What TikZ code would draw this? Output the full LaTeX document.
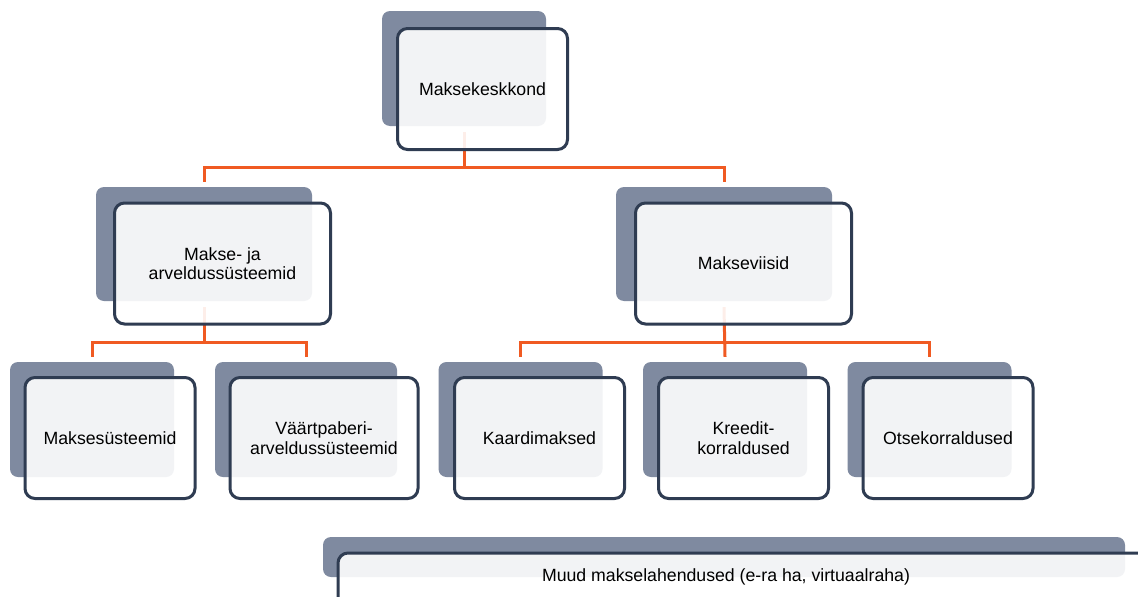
\documentclass[tikz,border=0pt]{standalone}
\usepackage{fontspec}
\setmainfont{Liberation Sans}

\definecolor{slate}{HTML}{7F8AA0}
\definecolor{navy}{HTML}{2F3C52}
\definecolor{flame}{HTML}{F05A22}

\begin{document}
\begin{tikzpicture}[back/.style={rectangle, rounded corners=8pt, fill=slate, inner sep=0pt, minimum width=164pt, minimum height=115pt}, front/.style={rectangle, rounded corners=10pt, draw=navy, line width=3pt, fill=white, fill opacity=0.9, text opacity=1, inner sep=0pt, align=center, minimum width=170pt, minimum height=121pt, font=\fontsize{17.7pt}{19.5pt}\selectfont}, wide/.style={minimum width=216pt}, link/.style={draw=flame, line width=3pt}]
  \clip (0pt, 0pt) rectangle (1138pt, -597pt);
  \fill[white] (0pt, 0pt) rectangle (1138pt, -597pt);
  \coordinate (bus0) at (0pt, -167pt);
  \coordinate (bus1) at (0pt, -342pt);
  % shadow plates
  \draw (464.0pt, -68.5pt)node[back](b0){};
  \draw (204.0pt, -244.0pt)node[back, wide, minimum height=114pt](b1){};
  \draw (724.0pt, -244.0pt)node[back, wide, minimum height=114pt](b2){};
  \draw (92.0pt, -419.5pt)node[back](b3){};
  \draw (306.0pt, -419.5pt)node[back, minimum width=182pt](b4){};
  \draw (520.5pt, -419.5pt)node[back](b5){};
  \draw (725.0pt, -419.5pt)node[back](b6){};
  \draw (929.5pt, -419.5pt)node[back](b7){};
  \draw (724.0pt, -557.0pt)node[back, minimum width=802pt, minimum height=40pt](b8){};
  % connectors
  \draw[link] ([yshift=-6pt]b0.south) -- (b0.south |- bus0);
  \draw[link] ([yshift=5pt]b1.north) -- (b1.north |- bus0) -- (b2.north |- bus0) -- ([yshift=5pt]b2.north);
  \draw[link] ([yshift=-6pt]b1.south) -- (b1.south |- bus1);
  \draw[link] ([yshift=5pt]b3.north) -- (b3.north |- bus1) -- (b4.north |- bus1) -- ([yshift=5pt]b4.north);
  \draw[link] ([yshift=-6pt]b2.south) -- ([yshift=5pt]b6.north);
  \draw[link] ([yshift=5pt]b5.north) -- (b5.north |- bus1) -- (b7.north |- bus1) -- ([yshift=5pt]b7.north);
  % front boxes
  \draw (482.5pt, -89.0pt)node[front](0){Maksekeskkond};
  \draw (222.5pt, -263.5pt)node[front, wide](1){Makse- ja\\arveldussüsteemid};
  \draw (743.5pt, -263.5pt)node[front, wide](2){Makseviisid};
  \draw (110.0pt, -438.0pt)node[front](3){Maksesüsteemid};
  \draw (324.0pt, -438.0pt)node[front, minimum width=188pt](4){Väärtpaberi-\\arveldussüsteemid};
  \draw (539.5pt, -438.0pt)node[front](5){Kaardimaksed};
  \draw (743.5pt, -438.0pt)node[front](6){Kreedit-\\korraldused};
  \draw (948.0pt, -438.0pt)node[front](7){Otsekorraldused};
  \draw (760.0pt, -590.0pt)node[front, minimum width=844pt, minimum height=74pt](8){};
  \draw (726.0pt, -577.0pt)node[font=\fontsize{17.7pt}{19.5pt}\selectfont](8t){Muud makselahendused (e-ra ha, virtuaalraha)};
\end{tikzpicture}
\end{document}
